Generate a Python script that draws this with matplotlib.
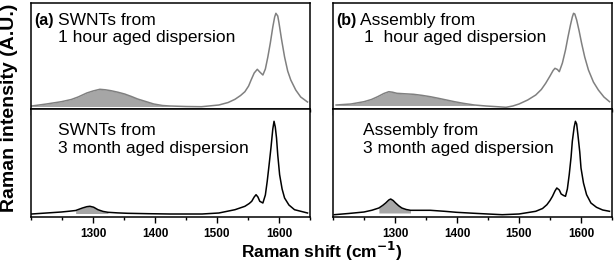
import matplotlib.pyplot as plt
from matplotlib.ticker import MultipleLocator

plt.rcParams['font.family'] = ['Liberation Sans', 'DejaVu Sans']

# Raman shift (cm-1) / intensity (a.u.)
# (a) SWNTs from 1 hour aged dispersion
a1_x = [1201, 1225, 1249, 1265, 1276, 1290, 1300, 1311, 1320, 1329, 1340, 1351, 1362,
        1372, 1385, 1398, 1412, 1424, 1450, 1475, 1503, 1518, 1529, 1538, 1545, 1551,
        1555, 1560, 1565, 1569, 1574, 1578, 1582, 1586, 1590, 1593, 1595, 1598, 1600,
        1604, 1609, 1614, 1619, 1627, 1635, 1646]
a1_y = [3, 5, 7.3, 9.5, 12, 16, 18, 19.7, 19.2, 18.3, 16.8, 15, 12.5,
        10, 7.5, 5, 3.5, 3, 2.5, 2.3, 4, 6.5, 9.7, 13.5, 17.3, 23,
        29, 36, 39.7, 37, 34, 40, 52, 66, 82, 92, 95.7, 93, 86,
        70, 52, 38, 29, 19, 12, 7]
a1_fill = (1201, 1424, 2.5)

# (a) SWNTs from 3 month aged dispersion
a3_x = [1201, 1225, 1249, 1262, 1272, 1283, 1290, 1295, 1301, 1308, 1316, 1324, 1340,
        1356, 1390, 1424, 1476, 1503, 1529, 1545, 1552, 1556, 1560, 1563, 1566, 1569,
        1574, 1578, 1581, 1584, 1587, 1590, 1592, 1594, 1596, 1598, 1601, 1605, 1609,
        1616, 1625, 1646]
a3_y = [3, 4, 5, 5.8, 6.5, 9, 10.3, 10.7, 9.8, 7.3, 5.6, 4.7, 4.1,
        3.7, 3.3, 3, 3, 4, 7.3, 10.7, 13.5, 15.7, 20, 22.3, 20, 15.7,
        14, 22, 35.7, 52, 69, 88, 95.7, 90, 79, 62, 42.3, 28, 19,
        12, 7.3, 4]
a3_fill = (1272, 1324, 3.5)

# (b) Assembly from 1 hour aged dispersion
b1_x = [1205, 1229, 1250, 1262, 1272, 1282, 1290, 1296, 1303, 1316, 1330, 1344, 1357,
        1370, 1383, 1396, 1410, 1428, 1447, 1465, 1479, 1490, 1500, 1514, 1527, 1536,
        1543, 1550, 1555, 1558, 1562, 1565, 1570, 1575, 1579, 1583, 1586, 1588, 1590,
        1593, 1597, 1601, 1606, 1612, 1620, 1628, 1637, 1646]
b1_y = [4, 5, 7.3, 9.5, 12.3, 15.5, 17.3, 16.8, 15.7, 15.2, 14.7, 13.6, 12.3,
        10.7, 9, 7.3, 5.7, 4, 3, 2.3, 1.7, 3, 5, 9, 14, 19.5,
        25.7, 33, 38.5, 40.7, 39.5, 37.3, 46, 59, 72, 84, 92, 95.7, 95,
        89, 78, 65.7, 52, 39, 27, 19, 12, 7.3]
b1_fill = (1205, 1428, 3.5)

# (b) Assembly from 3 month aged dispersion
b3_x = [1202, 1225, 1250, 1263, 1274, 1280, 1285, 1290, 1293, 1297, 1301, 1306, 1311,
        1318, 1325, 1340, 1357, 1380, 1399, 1428, 1450, 1473, 1500, 1527, 1538, 1545,
        1550, 1554, 1558, 1561, 1565, 1568, 1572, 1575, 1578, 1581, 1584, 1586, 1589,
        1591, 1593, 1595, 1598, 1600, 1604, 1609, 1616, 1625, 1635, 1646]
b3_y = [2.3, 3.5, 5, 6.8, 9, 11.5, 14, 17, 18, 16.5, 14, 11.2, 9,
        7.5, 6.7, 6.7, 6.7, 5.7, 4.7, 3.7, 3, 2.3, 3, 5.7, 8.5, 12.3,
        16.5, 20.7, 26, 29, 27, 23, 21.5, 20.7, 28, 42.3, 60, 75.7, 90,
        95.7, 93, 82.3, 65, 49, 34, 22.3, 14, 9.7, 7, 5.7]
b3_fill = (1274, 1325, 4)

xticks_major = [1300, 1400, 1500, 1600]

panels = [
    (0, 0, a1_x, a1_y, a1_fill, '#808080', '(a)', 'SWNTs from', '1 hour aged dispersion'),
    (1, 0, a3_x, a3_y, a3_fill, 'black', None, 'SWNTs from', '3 month aged dispersion'),
    (0, 1, b1_x, b1_y, b1_fill, '#808080', '(b)', 'Assembly from', '1  hour aged dispersion'),
    (1, 1, b3_x, b3_y, b3_fill, 'black', None, 'Assembly from', '3 month aged dispersion'),
]

W, H = 614, 263
fig = plt.figure(figsize=(6.14, 2.63), dpi=100)

col_left = [31, 333]
col_w = 279
row_top = [3, 109]
row_h = [106, 108]

for row, col, xs, ys, fill, color, tag, line1, line2 in panels:
    ax = fig.add_axes([col_left[col] / W, 1 - (row_top[row] + row_h[row]) / H,
                       col_w / W, row_h[row] / H])
    ax.plot(xs, ys, color=color, lw=1.1)
    lo, hi, base = fill
    sx = [x for x in xs if lo <= x <= hi]
    sy = [y for x, y in zip(xs, ys) if lo <= x <= hi]
    ax.fill_between(sx, sy, base, color='#a6a6a6', lw=0)
    ax.set_xlim(1200, 1650)
    ax.set_ylim(0, row_h[row])
    ax.set_yticks([])
    ax.xaxis.set_major_locator(MultipleLocator(100))
    ax.xaxis.set_minor_locator(MultipleLocator(50))
    ax.tick_params(axis='x', which='major', direction='out', length=4, width=1, pad=4)
    ax.tick_params(axis='x', which='minor', direction='out', length=2.5, width=1)
    for s in ax.spines.values():
        s.set_linewidth(1.1)
    if row == 0:
        ax.set_xticklabels([])
        ax.text(1205, 84, tag, fontsize=11.5, fontweight='bold', va='baseline')
        ax.text(1243.5, 84, line1, fontsize=12.5, va='baseline')
        ax.text(1243.5 if col == 0 else 1250, 67, line2, fontsize=12.5, va='baseline')
    else:
        ax.set_xticks(xticks_major)
        ax.set_xticklabels([str(t) for t in xticks_major], fontweight='bold', fontsize=8.5)
        tx = 1243.5 if col == 0 else 1248
        ax.text(tx, 82, line1, fontsize=12.5, va='baseline')
        ax.text(tx, 64, line2, fontsize=12.5, va='baseline')

fig.text(321.5 / W, 1 - 251 / H, 'Raman shift (cm$^{\\mathbf{-1}}$)', ha='center', va='center',
         fontsize=12.5, fontweight='bold')
fig.text(10 / W, 1 - 108 / H, 'Raman intensity (A.U.)', ha='center', va='center',
         rotation=90, fontsize=14, fontweight='bold')

fig.savefig('out.png', dpi=100)
